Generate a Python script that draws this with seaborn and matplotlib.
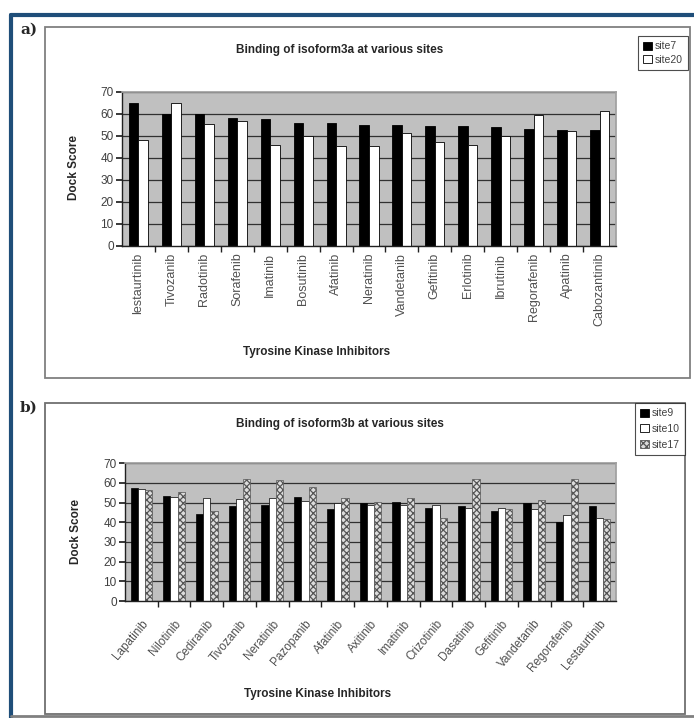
import numpy as np
import pandas as pd
import seaborn as sns
import matplotlib.pyplot as plt
from matplotlib.patches import Rectangle
from matplotlib.lines import Line2D

# panel a data
drugs_a = ["lestaurtinib", "Tivozanib", "Radotinib", "Sorafenib", "Imatinib", "Bosutinib",
           "Afatinib", "Neratinib", "Vandetanib", "Gefitinib", "Erlotinib", "Ibrutinib",
           "Regorafenib", "Apatinib", "Cabozantinib"]
site7 = [65, 59.8, 59.8, 58, 57.4, 55.9, 55.6, 55, 54.8, 54.4, 54.4, 53.8, 52.9, 52.6, 52.6]
site20 = [48.2, 65, 55.1, 56.9, 46, 49.8, 45.3, 45.3, 51.4, 47, 46, 50, 59.4, 52.3, 61.4]

# panel b data
drugs_b = ["Lapatinib", "Nilotinib", "Cediranib", "Tivozanib", "Neratinib", "Pazopanib",
           "Afatinib", "Axitinib", "Imatinib", "Crizotinib", "Dasatinib", "Gefitinib",
           "Vandetanib", "Regorafenib", "Lestaurtinib"]
site9 = [57.5, 53.4, 44.2, 48.3, 48.6, 52.7, 46.6, 49.7, 50.4, 47.1, 48.3, 45.9, 49.7, 40, 48.5]
site10 = [56.9, 52.7, 52.2, 51.7, 52.2, 50.8, 49.7, 48.8, 48.8, 48.8, 47.1, 47.1, 46.6, 43.7, 42]
site17 = [56.4, 55.6, 45.8, 61.9, 61.5, 58.1, 52.5, 50.5, 52.5, 42, 61.9, 46.8, 51.4, 61.9, 41.5]

sns.set_theme(style="white")
plt.rcParams['font.family'] = ['Liberation Sans', 'DejaVu Sans']
plt.rcParams['hatch.linewidth'] = 0.9

W, H = 694, 718
fig = plt.figure(figsize=(W / 100, H / 100), dpi=100)
fig.patch.set_facecolor("white")


def fx(px):
    return px / W


def fy(py):
    return 1 - py / H


# outer blue frame + panel boxes
fig.add_artist(Line2D([fx(11), fx(11)], [fy(15), fy(718)], color="#1f4e79", lw=3))
fig.add_artist(Line2D([fx(11), fx(694)], [fy(15), fy(15)], color="#1f4e79", lw=3))
fig.add_artist(Line2D([fx(11), fx(694)], [fy(716), fy(716)], color="#808080", lw=2))
fig.add_artist(Rectangle((fx(45), fy(378)), fx(690) - fx(45), fy(27) - fy(378),
                         fill=False, ec="#808080", lw=1.3))
fig.add_artist(Rectangle((fx(45), fy(714)), fx(685) - fx(45), fy(403) - fy(714),
                         fill=False, ec="#707070", lw=1.3))
fig.text(fx(20), fy(30), "a)", fontsize=11, fontweight="bold", family="DejaVu Serif", va="center")
fig.text(fx(20), fy(408), "b)", fontsize=11, fontweight="bold", family="DejaVu Serif", va="center")


def style_axes(ax, n):
    ax.set_facecolor("#c0c0c0")
    ax.set_ylim(0, 70)
    ax.set_yticks(range(0, 71, 10))
    ax.set_xlim(-0.5, n - 0.5)
    ax.yaxis.grid(True, color="#303030", lw=0.9)
    ax.set_axisbelow(True)
    for s in ["top", "right"]:
        ax.spines[s].set_color("#a0a0a0")
    for s in ["left", "bottom"]:
        ax.spines[s].set_color("#202020")
        ax.spines[s].set_linewidth(1)
    ax.set_xticks(np.arange(n - 1) + 0.5, minor=True)
    ax.tick_params(axis="x", which="major", length=0, pad=5)
    ax.tick_params(axis="x", which="minor", length=4, color="#202020", direction="out")
    ax.tick_params(axis="y", length=4, color="#202020", direction="out", labelsize=8.5,
                   labelcolor="#404040", pad=2)
    ax.tick_params(left=True, bottom=True, which="both")
    ax.set_xlabel("")
    ax.set_ylabel("")


def make_legend(handles, labels, anchor, spacing):
    leg = fig.legend(handles, labels, loc="upper right", bbox_to_anchor=anchor,
                     fontsize=7.5, frameon=True, fancybox=False,
                     handlelength=0.8, handleheight=0.8, handletextpad=0.3,
                     borderpad=0.5, labelspacing=spacing, borderaxespad=0)
    leg.get_frame().set_edgecolor("#202020")
    leg.get_frame().set_linewidth(0.8)
    for t in leg.get_texts():
        t.set_color("#404040")
    return leg


# ---------- panel a ----------
ax1 = fig.add_axes([fx(122), fy(245.7), fx(616) - fx(122), fy(91.7) - fy(245.7)])
df_a = pd.DataFrame({"drug": drugs_a * 2,
                     "site": ["site7"] * len(drugs_a) + ["site20"] * len(drugs_a),
                     "score": site7 + site20})
sns.barplot(data=df_a, x="drug", y="score", hue="site", ax=ax1,
            palette={"site7": "black", "site20": "white"}, edgecolor="black",
            linewidth=0.6, width=0.58, legend=False)
style_axes(ax1, len(drugs_a))
ax1.set_xticks(range(len(drugs_a)))
ax1.set_xticklabels(drugs_a, rotation=90, fontsize=9, color="#505050")
fig.text(fx(340), fy(50), "Binding of isoform3a at various sites", ha="center", va="center",
         fontsize=8.5, fontweight="bold")
fig.text(fx(74), fy(168), "Dock Score", rotation=90, ha="center", va="center",
         fontsize=8.5, fontweight="bold")
fig.text(fx(317), fy(352), "Tyrosine Kinase Inhibitors", ha="center", va="center",
         fontsize=8.5, fontweight="bold")
h_a = [Rectangle((0, 0), 1, 1, fc="black", ec="black", lw=0.6),
       Rectangle((0, 0), 1, 1, fc="white", ec="black", lw=0.6)]
make_legend(h_a, ["site7", "site20"], (fx(688), fy(36)), 0.35)

# ---------- panel b ----------
ax2 = fig.add_axes([fx(125), fy(601), fx(616) - fx(125), fy(463.3) - fy(601)])
nb = len(drugs_b)
df_b = pd.DataFrame({"drug": drugs_b * 3,
                     "site": ["site9"] * nb + ["site10"] * nb + ["site17"] * nb,
                     "score": site9 + site10 + site17})
sns.barplot(data=df_b, x="drug", y="score", hue="site", ax=ax2,
            palette={"site9": "black", "site10": "white", "site17": "#dcdcdc"},
            edgecolor="black", linewidth=0.5, width=0.66, legend=False)
for bar in ax2.containers[2]:
    bar.set_hatch("xxxxx")
    bar.set_edgecolor("#555555")
style_axes(ax2, nb)
ax2.set_xticks(range(nb))
ax2.set_xticklabels(drugs_b, rotation=50, ha="right", rotation_mode="anchor",
                    fontsize=8.5, color="#505050")
ax2.tick_params(axis="x", which="major", pad=12)
fig.text(fx(340), fy(424), "Binding of isoform3b at various sites", ha="center", va="center",
         fontsize=8.5, fontweight="bold")
fig.text(fx(76), fy(532), "Dock Score", rotation=90, ha="center", va="center",
         fontsize=8.5, fontweight="bold")
fig.text(fx(318), fy(694), "Tyrosine Kinase Inhibitors", ha="center", va="center",
         fontsize=8.5, fontweight="bold")
h_b = [Rectangle((0, 0), 1, 1, fc="black", ec="black", lw=0.6),
       Rectangle((0, 0), 1, 1, fc="white", ec="black", lw=0.6),
       Rectangle((0, 0), 1, 1, fc="#dcdcdc", ec="#555555", lw=0.6, hatch="xxxxx")]
make_legend(h_b, ["site9", "site10", "site17"], (fx(685), fy(403)), 0.55)

fig.savefig("out.png", dpi=100)
